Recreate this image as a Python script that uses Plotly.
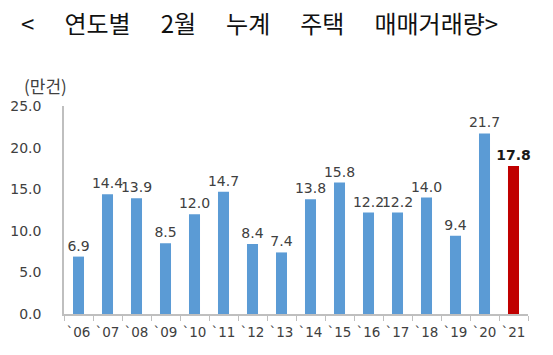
import plotly.graph_objects as go

years = ["`06", "`07", "`08", "`09", "`10", "`11", "`12", "`13", "`14", "`15", "`16", "`17", "`18", "`19", "`20", "`21"]
values = [6.9, 14.4, 13.9, 8.5, 12.0, 14.7, 8.4, 7.4, 13.8, 15.8, 12.2, 12.2, 14.0, 9.4, 21.7, 17.8]
y_ticks = [0, 5, 10, 15, 20, 25]
sp = "\u2002\u2002\u2005"
title_text = "<" + sp + "연도별" + sp + "2월" + sp + "누계" + sp + "주택" + sp + "매매거래량>"
unit_text = "(만건)"

blue = "#5B9BD5"
red = "#C00000"
colors = [blue] * (len(years) - 1) + [red]
labels = [f"{v:.1f}" for v in values]
label_texts = labels[:-1] + [f"<b>{labels[-1]}</b>"]
label_colors = ["#404040"] * (len(years) - 1) + ["#1a1a1a"]

num_font = "DejaVu Sans"

fig = go.Figure(go.Bar(
    x=years, y=values,
    marker=dict(color=colors, line=dict(width=0)),
    width=0.38,
    text=label_texts,
    textposition="outside",
    textfont=dict(family=num_font, size=14, color=label_colors),
    constraintext="none",
    cliponaxis=False,
))

fig.update_layout(
    width=553, height=355,
    margin=dict(l=56, r=33, t=98, b=49, autoexpand=False),
    paper_bgcolor="white", plot_bgcolor="white",
    showlegend=False,
    title=dict(text=title_text, x=0.455, xanchor="center", y=0.952, yanchor="middle",
               font=dict(family="Noto Sans CJK KR", size=24, color="#111111")),
    xaxis=dict(
        type="category", tickangle=0, automargin=False,
        showline=True, linecolor="#BFBFBF", linewidth=1.5,
        ticks="outside", tickson="boundaries", ticklen=5, tickcolor="#BFBFBF",
        ticklabelstandoff=5,
        tickfont=dict(family=num_font, size=13.5, color="#404040"),
        showgrid=False,
    ),
    yaxis=dict(
        range=[0, 25], tickvals=y_ticks, tickformat=".1f", automargin=False,
        showline=True, linecolor="#BFBFBF", linewidth=1.5,
        showgrid=False, zeroline=False,
        ticks="", ticklabelstandoff=18,
        tickfont=dict(family=num_font, size=14, color="#404040"),
    ),
    annotations=[dict(
        text=unit_text, xref="paper", yref="paper", x=-0.039, y=1.10,
        xanchor="center", yanchor="middle", showarrow=False,
        font=dict(family="Noto Sans CJK KR", size=17, color="#404040"),
    )],
)

fig.write_html("out.html")
